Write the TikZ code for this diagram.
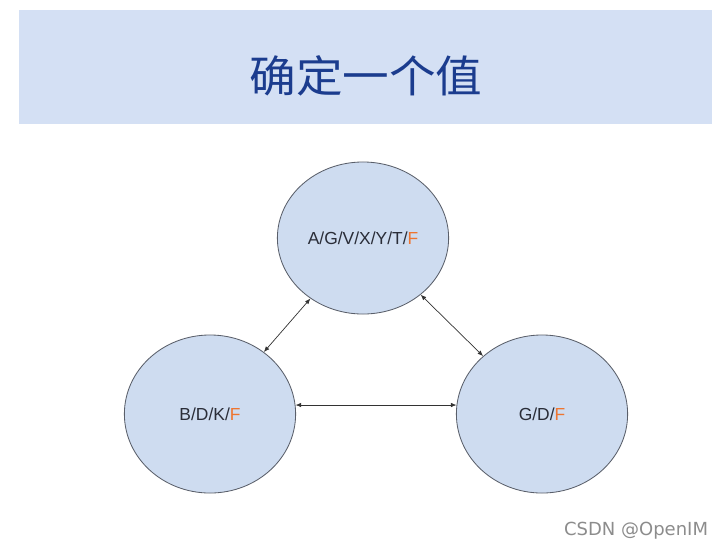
\documentclass[tikz,border=0pt]{standalone}
\usepackage{fontspec}
\setmainfont{Liberation Sans}
\newfontfamily\cjk{Noto Sans CJK SC}
\newfontfamily\wmfont{DejaVu Sans}
\usepackage{xcolor}
\definecolor{bandblue}{HTML}{D4E0F4}
\definecolor{titleblue}{HTML}{1B3C8E}
\definecolor{ballfill}{HTML}{CEDCF0}
\definecolor{ballline}{HTML}{5A5F6A}
\definecolor{txtdark}{HTML}{2A2D38}
\definecolor{forange}{HTML}{EE7530}
\usepackage{tikz}
\usetikzlibrary{
  shapes.geometric,
  arrows.meta,
  positioning
}

\begin{document}
\begin{tikzpicture}[
  x=0.025cm, y=-0.025cm,
  ball/.style={ellipse, draw=ballline, line width=0.6pt, fill=ballfill, minimum width=4.28cm, minimum height=3.95cm, inner sep=0pt, font=\fontsize{12.4}{14}\selectfont, text=txtdark},
  arr/.style={{Latex[length=4pt,width=3.2pt]}-{Latex[length=4pt,width=3.2pt]}, line width=0.5pt, black!80},
  hl/.style={text=forange}
]
  \useasboundingbox (0,0) rectangle (728,554);
  \fill[bandblue] (19,10) rectangle (712,124);
  \node[text=titleblue, font=\cjk\fontsize{31}{31}\selectfont, xscale=1.07] (title) at (366,76) {确定一个值};

  \node[ball, minimum height=3.8cm] (agv) at (363,238) {A/G/V/X/Y/T/\textcolor{forange}{F}};
  \node[ball] (bdk) at (210,414) {B/D/K/\textcolor{forange}{F}};
  \node[ball] (gdf) at (542,414) {G/D/\textcolor{forange}{F}};

  \draw[arr] (agv) -- (bdk);
  \draw[arr] (agv) -- (gdf);
  \draw[arr] (bdk.6) -- (gdf.174);

  \node[text=black!45, font=\wmfont\fontsize{12.8}{14}\selectfont, anchor=east] (mark) at (713,531) {CSDN @OpenIM};
\end{tikzpicture}
\end{document}
